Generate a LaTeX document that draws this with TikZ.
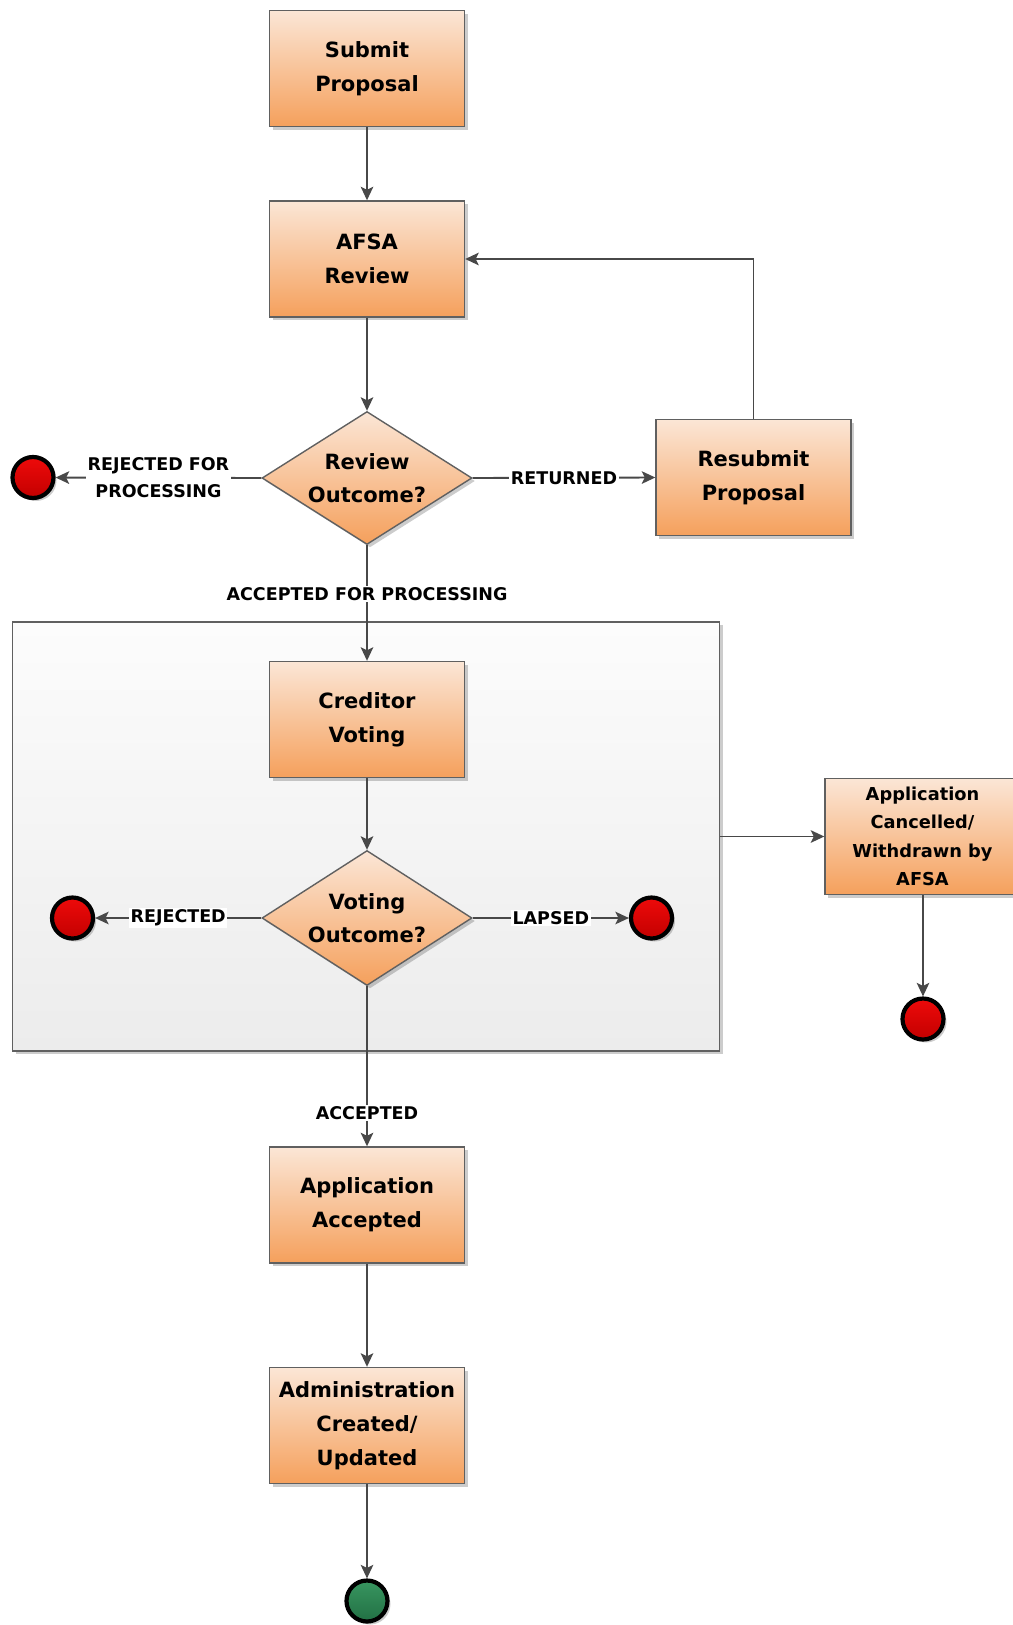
\documentclass[tikz,border=0pt]{standalone}
\usepackage{fontspec}
\setmainfont{DejaVu Sans}
\usetikzlibrary{arrows.meta,shapes.geometric,shadows}

\definecolor{peachtop}{RGB}{251,230,214}
\definecolor{peachbot}{RGB}{245,160,92}
\definecolor{edgegray}{RGB}{96,96,96}
\definecolor{linegray}{RGB}{72,72,72}
\definecolor{stagetop}{RGB}{252,252,252}
\definecolor{stagebot}{RGB}{236,236,236}
\definecolor{redtop}{RGB}{238,10,10}
\definecolor{redbot}{RGB}{195,0,0}
\definecolor{greentop}{RGB}{56,150,96}
\definecolor{greenbot}{RGB}{34,112,68}

\begin{document}
\begin{tikzpicture}[x=1pt,y=-1pt,
  shadowed/.style={drop shadow={shadow xshift=3pt,shadow yshift=-3pt,opacity=0.2,fill=black}},
  stepbox/.style={rectangle, draw=edgegray, line width=1.4pt,
    top color=peachtop, bottom color=peachbot,
    minimum width=195pt, minimum height=116pt, inner sep=2pt,
    align=center, text=black, font=\fontsize{21}{34}\selectfont\bfseries, shadowed},
  smallbox/.style={stepbox, font=\fontsize{17.8}{28.3}\selectfont\bfseries},
  decision/.style={diamond, draw=edgegray, line width=1.4pt,
    top color=peachtop, bottom color=peachbot,
    minimum width=210pt, minimum height=133pt, inner sep=0pt, shadowed},
  decisiontext/.style={align=center, text=black, font=\fontsize{21}{33}\selectfont\bfseries},
  stage/.style={rectangle, draw=edgegray, line width=1.4pt,
    top color=stagetop, bottom color=stagebot, shadowed},
  endred/.style={circle, draw=black, line width=4.2pt, minimum size=41pt, inner sep=0pt,
    top color=redtop, bottom color=redbot, shadowed},
  endgreen/.style={endred, top color=greentop, bottom color=greenbot},
  flow/.style={draw=linegray, line width=1.9pt, -{Stealth[length=13.5pt,width=12.5pt,inset=3pt]}},
  tag/.style={fill=white, inner sep=1.5pt, align=center, text=black,
    font=\fontsize{17.5}{27.5}\selectfont\bfseries},
]
\useasboundingbox (0,0) rectangle (1012,1625);

% voting stage frame (behind everything else)
\node[stage, minimum width=707pt, minimum height=429pt] (stage) at (366.2,836.5) {};

% main flow boxes
\node[stepbox] (submit) at (367,68.5) {Submit\\Proposal};
\node[stepbox] (afsa) at (367,259) {AFSA\\Review};
\node[decision] (review) at (367,478) {};
\node[decisiontext] (reviewtext) at (review.center) {Review\\Outcome?};
\node[stepbox] (resubmit) at (753.5,477.5) {Resubmit\\Proposal};
\node[endred] (rejectedA) at (33,477.5) {};

\node[stepbox] (creditor) at (367,719.5) {Creditor\\Voting};
\node[decision, minimum height=135pt] (voting) at (367,918) {};
\node[decisiontext] (votingtext) at (voting.center) {Voting\\Outcome?};
\node[endred] (rejectedB) at (72.5,918) {};
\node[endred] (lapsed) at (651.5,918) {};

\node[smallbox] (cancelled) at (922.5,836.5) {Application\\Cancelled/\\Withdrawn by\\AFSA};
\node[endred] (cancelend) at (923,1019) {};

\node[stepbox] (accepted) at (367,1205) {Application\\Accepted};
\node[stepbox] (admin) at (367,1425.5) {Administration\\Created/\\Updated};
\node[endgreen] (done) at (367,1601) {};

% connectors
\draw[flow] (submit) -- (afsa);
\draw[flow] (afsa) -- (review.north);
\draw[flow] (review.east) -- node[tag, midway] {RETURNED} (resubmit.west);
\draw[flow] (resubmit.north) |- (afsa.east);
\draw[flow] (review.west) -- node[tag, midway] {REJECTED FOR\\PROCESSING} (rejectedA);
\draw[flow] (review.south) -- node[tag, pos=0.42] {ACCEPTED FOR PROCESSING} (creditor.north);

\draw[flow] (creditor) -- (voting.north);
\draw[flow] (voting.west) -- node[tag, midway] {REJECTED} (rejectedB);
\draw[flow] (voting.east) -- node[tag, midway] {LAPSED} (lapsed);
\draw[flow] (voting.south) -- node[tag, pos=0.79] {ACCEPTED} (accepted.north);

\draw[flow] (stage.east) -- (cancelled.west);
\draw[flow] (cancelled.south -| cancelend) -- (cancelend);

\draw[flow] (accepted) -- (admin);
\draw[flow] (admin) -- (done);
\end{tikzpicture}
\end{document}
